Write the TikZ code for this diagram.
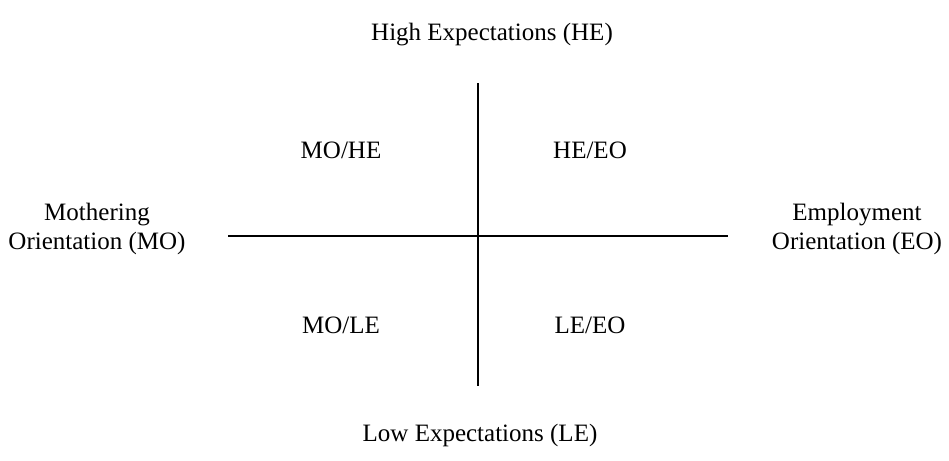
\documentclass[tikz,border=0pt]{standalone}
\usepackage{fontspec}
\setmainfont{Liberation Serif}
\begin{document}
\begin{tikzpicture}[x=1pt,y=-1pt,
  lbl/.style={font=\fontsize{25}{29}\selectfont, inner sep=0pt, anchor=base},
  side/.style={font=\fontsize{25}{29}\selectfont, inner sep=0pt, align=center},
  axis/.style={line width=1.8pt, draw=black}]
\useasboundingbox (0,0) rectangle (949,460);
\coordinate (vt) at (478,83);
\coordinate (vb) at (478,386);
\coordinate (hl) at (228,236);
\coordinate (hr) at (728,236);
\draw[axis] (vt) -- (vb);
\draw[axis] (hl) -- (hr);
\node[lbl] (he) at (492,41) {High Expectations (HE)};
\node[lbl] (le) at (480,441) {Low Expectations (LE)};
\node[side] (mo) at (97,229) {Mothering\\Orientation (MO)};
\node[side] (eo) at (857,229) {Employment\\Orientation (EO)};
\node[lbl] (mohe) at (341,158) {MO/HE};
\node[lbl] (heeo) at (590,158) {HE/EO};
\node[lbl] (mole) at (341,333) {MO/LE};
\node[lbl] (leeo) at (590,333) {LE/EO};
\end{tikzpicture}
\end{document}
